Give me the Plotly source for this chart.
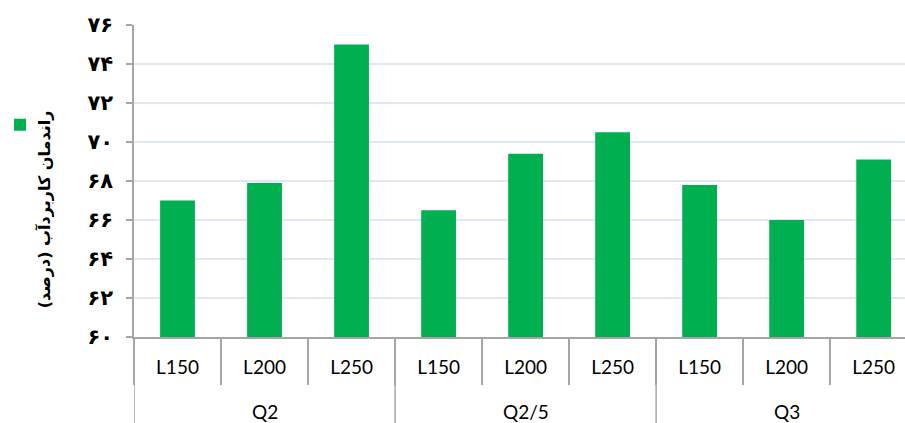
import plotly.graph_objects as go

# Water-use efficiency by flow rate (Q) and lateral length (L)
groups = ["Q2", "Q2", "Q2", "Q2/5", "Q2/5", "Q2/5", "Q3", "Q3", "Q3"]
laterals = ["L150", "L200", "L250", "L150", "L200", "L250", "L150", "L200", "L250"]
efficiency = [67.0, 67.9, 75.0, 66.5, 69.4, 70.5, 67.8, 66.0, 69.1]

tick_vals = [60, 62, 64, 66, 68, 70, 72, 74, 76]
tick_text = ["۶۰", "۶۲", "۶۴", "۶۶", "۶۸", "۷۰", "۷۲", "۷۴", "۷۶"]

axis_grey = "#a6a6a6"
bar_green = "#00b050"
label_font = "Lato, 'Open Sans', sans-serif"
persian_font = "'DejaVu Sans', sans-serif"

# unique category keys, labelled with the lateral length only
keys = [f"{g} | {l}" for g, l in zip(groups, laterals)]

fig = go.Figure()
fig.add_trace(go.Bar(
    x=keys,
    y=efficiency,
    name="",
    marker=dict(color=bar_green, line=dict(width=0)),
    showlegend=True,
))

PLOT_H = 312
BOTTOM = 86

fig.update_layout(
    width=905,
    height=423,
    margin=dict(l=134, r=0, t=25, b=BOTTOM, autoexpand=False),
    paper_bgcolor="white",
    plot_bgcolor="white",
    bargap=0.6,
    showlegend=True,
    legend=dict(
        xref="container", yref="container",
        x=0.0, y=0.705, xanchor="left", yanchor="middle",
        font=dict(size=2), itemwidth=30, bgcolor="rgba(0,0,0,0)",
    ),
    font=dict(family=label_font, color="#000000"),
)

fig.update_xaxes(
    type="category",
    tickvals=keys, ticktext=laterals,
    range=[-0.5, 8.36],
    tickson="boundaries",
    automargin=False,
    showline=True, linecolor=axis_grey, linewidth=1.5,
    ticks="outside", ticklen=46, tickcolor=axis_grey, tickwidth=1.5,
    tickfont=dict(size=19, color="#000000", family=label_font),
    ticklabelstandoff=12,
    showgrid=False,
)

fig.update_yaxes(
    range=[60, 76],
    tickvals=tick_vals, ticktext=tick_text,
    automargin=False,
    showline=True, linecolor=axis_grey, linewidth=1.5,
    ticks="outside", ticklen=6, tickcolor=axis_grey, tickwidth=1.5,
    showgrid=True, gridcolor="#dfe7f2", gridwidth=1.5,
    zeroline=False,
    ticklabelstandoff=9,
    tickfont=dict(size=21, color="#000000", family=persian_font, weight="bold"),
)

# group labels and group dividers under the lateral labels
group_names = list(dict.fromkeys(groups))
for name in group_names:
    idx = [i for i, g in enumerate(groups) if g == name]
    fig.add_annotation(
        text=name, xref="x", yref="paper",
        x=(idx[0] + idx[-1]) / 2, y=-74 / PLOT_H,
        yanchor="middle", showarrow=False,
        font=dict(size=19, color="#000000", family=label_font),
    )
    fig.add_shape(
        type="line", xref="x", yref="paper",
        x0=idx[0] - 0.5, x1=idx[0] - 0.5, y0=0, y1=-BOTTOM / PLOT_H,
        line=dict(color=axis_grey, width=1.5),
    )

fig.add_annotation(
    text="راندمان کاربردآب (درصد)",
    xref="paper", yref="paper",
    x=-0.132, y=0.41,
    textangle=-90, showarrow=False,
    font=dict(size=16, color="#000000", family=persian_font, weight="bold"),
)

fig.write_html("out.html")
